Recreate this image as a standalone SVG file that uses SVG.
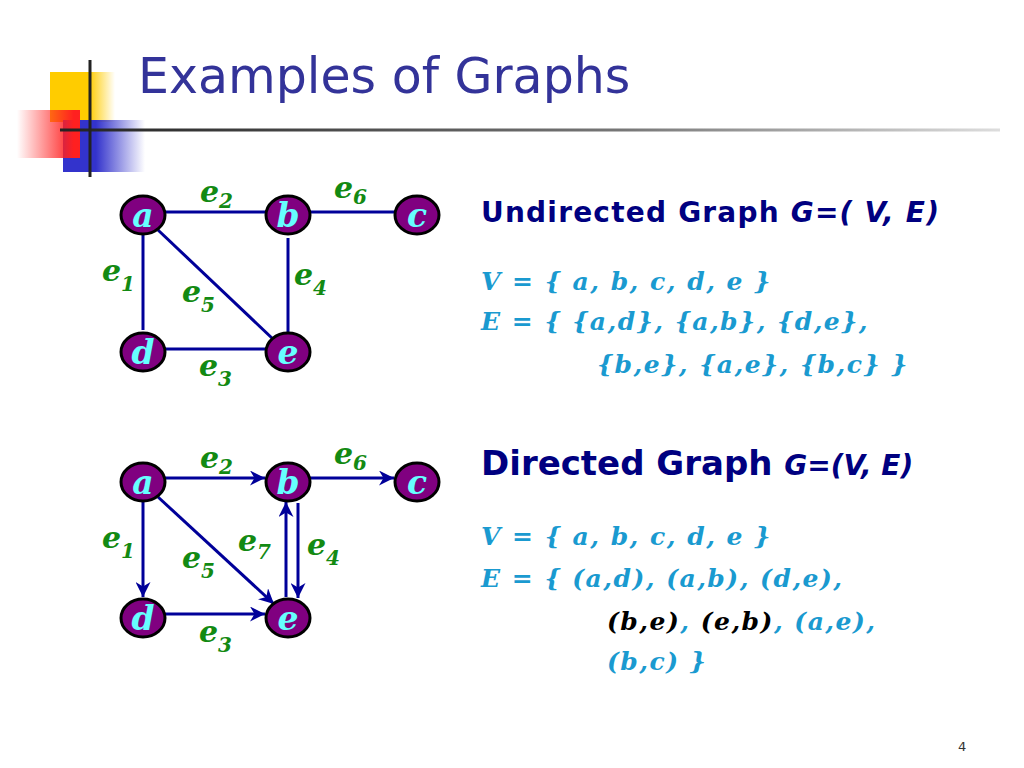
<svg xmlns="http://www.w3.org/2000/svg" width="1024" height="768" viewBox="0 0 1024 768">
<defs>
<linearGradient id="gy" x1="0" x2="1"><stop offset="0.6" stop-color="#ffcc00"/><stop offset="1" stop-color="#ffcc00" stop-opacity="0"/></linearGradient>
<linearGradient id="gr" x1="1" x2="0"><stop offset="0.1" stop-color="#ff2020"/><stop offset="1" stop-color="#ff2020" stop-opacity="0"/></linearGradient>
<linearGradient id="gb" x1="0" x2="1"><stop offset="0.4" stop-color="#3333cc"/><stop offset="1" stop-color="#3333cc" stop-opacity="0"/></linearGradient>
<linearGradient id="gl" x1="0" x2="1"><stop offset="0" stop-color="#222"/><stop offset="0.6" stop-color="#777"/><stop offset="1" stop-color="#ddd"/></linearGradient>
<marker id="ar" viewBox="0 0 10 10" refX="10" refY="5" markerWidth="5" markerHeight="5" orient="auto" markerUnits="strokeWidth"><path d="M0,0 L10,5 L0,10 L3,5 z" fill="#000099"/></marker>
<style>
.n ellipse{fill:#800080;stroke:#000;stroke-width:3}
.n text{font-family:"DejaVu Serif",serif;font-weight:bold;font-style:italic;font-size:33px;fill:#66ffff;text-anchor:middle}
.lb{font-family:"DejaVu Serif",serif;font-weight:bold;font-style:italic;font-size:30px;fill:#138a13}
.lb tspan.s{font-size:20px}
.ed line{stroke:#000099;stroke-width:3}
.h{font-family:"DejaVu Sans",Verdana,sans-serif;font-weight:bold;fill:#000080}
.st{font-family:"DejaVu Serif",serif;font-weight:bold;font-style:italic;font-size:25px;letter-spacing:1.5px;fill:#1a9ad0}
</style>
</defs>
<rect width="1024" height="768" fill="#fff"/>
<g id="logo">
<rect x="50" y="72" width="65" height="50" fill="url(#gy)"/>
<rect x="63" y="120" width="82" height="52" fill="url(#gb)"/>
<rect x="17" y="110" width="63" height="48" fill="url(#gr)"/>
<rect x="60" y="128.5" width="940" height="3" fill="url(#gl)"/>
<line x1="90" y1="60" x2="90" y2="177" stroke="#222" stroke-width="3"/>
</g>
<text x="138" y="93" font-family="DejaVu Sans, Verdana, sans-serif" font-size="49" fill="#333399">Examples of Graphs</text>

<g id="connectors-undirected" class="ed">
<line x1="165" y1="212" x2="266" y2="212"/>
<line x1="310" y1="212" x2="395" y2="212"/>
<line x1="143" y1="234" x2="143" y2="330"/>
<line x1="288" y1="238" x2="288" y2="332"/>
<line x1="158" y1="230" x2="274" y2="340"/>
<line x1="165" y1="349" x2="266" y2="349"/>
</g>
<g id="ua" class="n"><ellipse cx="143" cy="215" rx="22" ry="19"/><text x="143" y="227">a</text></g>
<g id="ub" class="n"><ellipse cx="288" cy="215" rx="22" ry="19"/><text x="288" y="227">b</text></g>
<g id="uc" class="n"><ellipse cx="417" cy="215" rx="22" ry="19"/><text x="417" y="227">c</text></g>
<g id="ud" class="n"><ellipse cx="143" cy="352" rx="22" ry="19"/><text x="143" y="364">d</text></g>
<g id="ue" class="n"><ellipse cx="288" cy="352" rx="22" ry="19"/><text x="288" y="364">e</text></g>
<g id="ulabels">
<text class="lb" x="200" y="202">e<tspan class="s" dy="6">2</tspan></text>
<text class="lb" x="334" y="198">e<tspan class="s" dy="6">6</tspan></text>
<text class="lb" x="102" y="281">e<tspan class="s" dy="10">1</tspan></text>
<text class="lb" x="294" y="285">e<tspan class="s" dy="10">4</tspan></text>
<text class="lb" x="182" y="302">e<tspan class="s" dy="10">5</tspan></text>
<text class="lb" x="199" y="376">e<tspan class="s" dy="10">3</tspan></text>
</g>

<g id="connectors-directed" class="ed">
<line x1="165" y1="478" x2="265" y2="478" marker-end="url(#ar)"/>
<line x1="310" y1="478" x2="394" y2="478" marker-end="url(#ar)"/>
<line x1="143" y1="500" x2="143" y2="597" marker-end="url(#ar)"/>
<line x1="165" y1="614" x2="265" y2="614" marker-end="url(#ar)"/>
<line x1="158" y1="497" x2="274" y2="604" marker-end="url(#ar)"/>
<line x1="286" y1="597" x2="286" y2="502" marker-end="url(#ar)"/>
<line x1="298" y1="503" x2="298" y2="598" marker-end="url(#ar)"/>
</g>
<g id="da" class="n"><ellipse cx="143" cy="482" rx="22" ry="19"/><text x="143" y="494">a</text></g>
<g id="db" class="n"><ellipse cx="288" cy="482" rx="22" ry="19"/><text x="288" y="494">b</text></g>
<g id="dc" class="n"><ellipse cx="417" cy="482" rx="22" ry="19"/><text x="417" y="494">c</text></g>
<g id="dd" class="n"><ellipse cx="143" cy="618" rx="22" ry="19"/><text x="143" y="630">d</text></g>
<g id="de" class="n"><ellipse cx="288" cy="618" rx="22" ry="19"/><text x="288" y="630">e</text></g>
<g id="dlabels">
<text class="lb" x="200" y="468">e<tspan class="s" dy="6">2</tspan></text>
<text class="lb" x="334" y="464">e<tspan class="s" dy="6">6</tspan></text>
<text class="lb" x="102" y="548">e<tspan class="s" dy="10">1</tspan></text>
<text class="lb" x="238" y="551">e<tspan class="s" dy="8">7</tspan></text>
<text class="lb" x="307" y="555">e<tspan class="s" dy="10">4</tspan></text>
<text class="lb" x="182" y="568">e<tspan class="s" dy="10">5</tspan></text>
<text class="lb" x="199" y="642">e<tspan class="s" dy="10">3</tspan></text>
</g>

<text class="h" x="481" y="222" font-size="28" textLength="458">Undirected Graph <tspan font-style="italic">G=( V, E)</tspan></text>
<text class="st" x="481" y="290">V = { a, b, c, d, e }</text>
<text class="st" x="481" y="330">E = { {a,d}, {a,b}, {d,e},</text>
<text class="st" x="597" y="373">{b,e}, {a,e}, {b,c} }</text>

<text class="h" x="481" y="475" font-size="34">Directed Graph <tspan font-style="italic" font-size="28">G=(V, E)</tspan></text>
<text class="st" x="481" y="545">V = { a, b, c, d, e }</text>
<text class="st" x="481" y="587">E = { (a,d), (a,b), (d,e),</text>
<text class="st" x="607" y="630"><tspan fill="#000">(b,e)</tspan>, <tspan fill="#000">(e,b)</tspan>, (a,e),</text>
<text class="st" x="607" y="670">(b,c) }</text>

<text x="958" y="751" font-family="DejaVu Sans, sans-serif" font-size="13" fill="#333">4</text>
</svg>
